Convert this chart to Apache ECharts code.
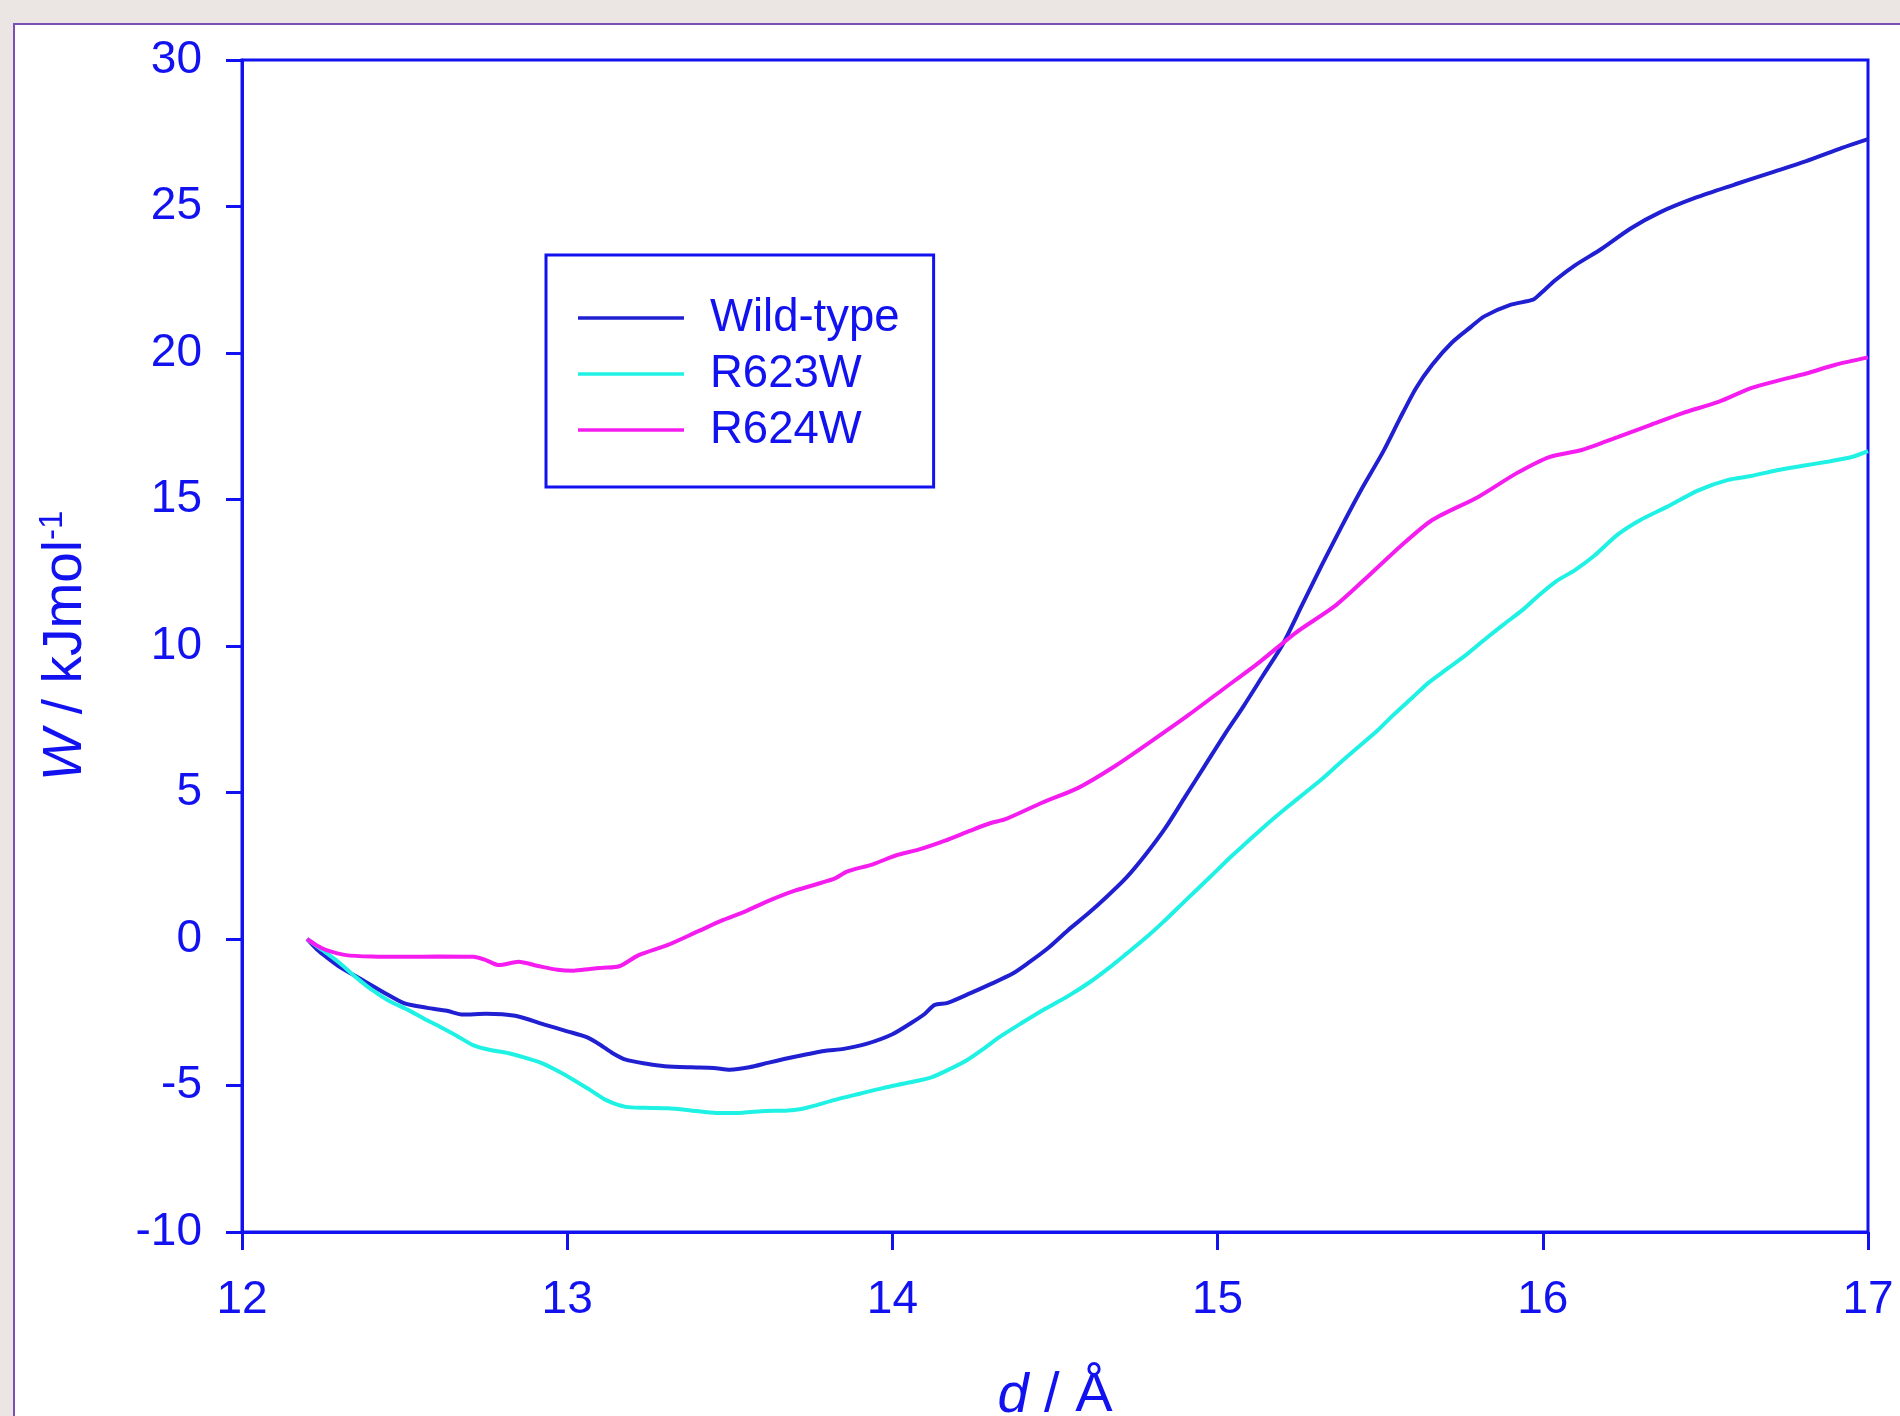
<!DOCTYPE html>
<html><head><meta charset="utf-8">
<script src="https://cdn.jsdelivr.net/npm/echarts@6/dist/echarts.min.js"></script>
<style>html,body{margin:0;padding:0;background:#ebe6e3}#c{width:1900px;height:1416px}</style>
</head><body><div id="c"></div><script>
const seriesNames = ['Wild-type', 'R623W', 'R624W'];
const xTicks = [12, 13, 14, 15, 16, 17];
const yTicks = [-10, -5, 0, 5, 10, 15, 20, 25, 30];

const wildX = [12.20,12.23,12.26,12.30,12.37,12.44,12.50,12.57,12.63,12.68,12.75,12.84,12.93,13.00,13.06,13.10,13.14,13.18,13.24,13.30,13.38,13.45,13.50,13.56,13.62,13.70,13.79,13.85,13.92,14.00,14.06,14.10,14.13,14.17,14.24,14.30,14.37,14.42,14.48,14.54,14.60,14.66,14.72,14.78,14.84,14.90,14.96,15.02,15.08,15.14,15.20,15.26,15.32,15.38,15.44,15.51,15.56,15.61,15.66,15.72,15.78,15.82,15.90,15.97,15.99,16.04,16.10,16.18,16.27,16.36,16.47,16.59,16.70,16.81,16.92,17.00];
const wildY = [0,-0.35,-0.62,-0.95,-1.40,-1.85,-2.20,-2.35,-2.45,-2.58,-2.55,-2.62,-2.92,-3.15,-3.35,-3.60,-3.90,-4.12,-4.25,-4.34,-4.38,-4.40,-4.46,-4.38,-4.22,-4.02,-3.82,-3.75,-3.58,-3.25,-2.85,-2.55,-2.25,-2.18,-1.85,-1.55,-1.18,-0.80,-0.30,0.30,0.85,1.45,2.10,2.90,3.80,4.85,5.90,6.95,7.95,9.00,10.05,11.40,12.75,14.05,15.30,16.65,17.75,18.80,19.60,20.35,20.90,21.25,21.64,21.82,22.00,22.50,23.00,23.55,24.25,24.80,25.30,25.75,26.15,26.55,27.00,27.30];

const r623X = [12.20,12.25,12.30,12.35,12.40,12.45,12.51,12.56,12.61,12.66,12.71,12.76,12.82,12.87,12.92,12.97,13.02,13.07,13.12,13.18,13.24,13.31,13.38,13.46,13.54,13.61,13.67,13.72,13.77,13.82,13.90,13.97,14.05,14.12,14.18,14.23,14.28,14.33,14.40,14.47,14.54,14.61,14.67,14.72,14.78,14.83,14.90,14.98,15.04,15.09,15.15,15.21,15.27,15.32,15.38,15.43,15.49,15.54,15.60,15.65,15.71,15.77,15.83,15.88,15.94,15.99,16.04,16.10,16.16,16.23,16.30,16.38,16.48,16.57,16.64,16.72,16.80,16.88,16.95,17.00];
const r623Y = [0,-0.40,-0.82,-1.30,-1.74,-2.10,-2.42,-2.72,-3.00,-3.30,-3.62,-3.78,-3.90,-4.05,-4.23,-4.50,-4.81,-5.15,-5.50,-5.73,-5.76,-5.78,-5.85,-5.94,-5.93,-5.87,-5.86,-5.80,-5.66,-5.50,-5.28,-5.09,-4.90,-4.72,-4.42,-4.13,-3.75,-3.34,-2.85,-2.38,-1.95,-1.45,-0.95,-0.50,0.05,0.55,1.30,2.15,2.80,3.30,3.90,4.46,5.00,5.45,6.05,6.53,7.10,7.64,8.25,8.76,9.25,9.75,10.30,10.74,11.25,11.75,12.20,12.60,13.10,13.80,14.30,14.74,15.32,15.67,15.80,16.00,16.15,16.30,16.45,16.65];

const r624X = [12.20,12.23,12.26,12.32,12.40,12.51,12.60,12.71,12.75,12.79,12.85,12.91,12.97,13.02,13.07,13.11,13.16,13.22,13.31,13.40,13.48,13.55,13.61,13.70,13.82,13.86,13.94,14.01,14.08,14.16,14.24,14.30,14.35,14.46,14.57,14.68,14.80,14.91,15.02,15.13,15.24,15.36,15.45,15.56,15.66,15.80,15.92,16.02,16.12,16.23,16.33,16.43,16.54,16.64,16.72,16.81,16.90,17.00];
const r624Y = [0,-0.22,-0.38,-0.55,-0.60,-0.61,-0.60,-0.61,-0.72,-0.89,-0.78,-0.92,-1.05,-1.08,-1.02,-0.98,-0.93,-0.55,-0.20,0.25,0.65,0.95,1.26,1.65,2.05,2.30,2.55,2.85,3.05,3.35,3.70,3.95,4.10,4.65,5.15,5.87,6.78,7.64,8.55,9.46,10.45,11.36,12.25,13.38,14.30,15.08,15.90,16.45,16.69,17.13,17.54,17.95,18.33,18.80,19.05,19.30,19.60,19.85];

const pair = (xs, ys) => xs.map((x, i) => [x, ys[i]]);
const AX = '#1212f0';
const FONT = '"Liberation Sans", Arial, sans-serif';
const colors = ['#2020d2', '#1ff2e4', '#f51cf0'];

const chart = echarts.init(document.getElementById('c'), null, {renderer: 'canvas'});
const lineSeries = (name, data, color) => ({
  name, type: 'line', data, symbol: 'none', smooth: 0.25,
  lineStyle: {color, width: 4}, itemStyle: {color}, z: 3
});
chart.setOption({
  animation: false,
  backgroundColor: '#ebe6e3',
  textStyle: {fontFamily: FONT},
  graphic: [{
    type: 'rect', z: -10, silent: true,
    shape: {x: 14, y: 24, width: 1900, height: 1420},
    style: {fill: '#ffffff', stroke: '#7a50b6', lineWidth: 2}
  }],
  grid: {left: 242, top: 60, right: 32, bottom: 184, outerBoundsMode: 'none', containLabel: false,
    show: true, borderColor: AX, borderWidth: 3, backgroundColor: 'rgba(0,0,0,0)'},
  legend: {
    data: seriesNames, orient: 'vertical', left: 546, top: 255,
    padding: [40, 34, 34, 32], itemGap: 10, itemWidth: 106, itemHeight: 3.5, icon: 'rect',
    borderColor: AX, borderWidth: 3, backgroundColor: '#fff',
    textStyle: {fontSize: 45.5, color: AX, fontFamily: FONT, padding: [0, 0, 0, 21]}
  },
  xAxis: {
    type: 'value', min: xTicks[0], max: xTicks[xTicks.length - 1], interval: 1,
    name: '{i|d} / Å', nameLocation: 'middle', nameGap: 136,
    nameTextStyle: {fontSize: 56, color: AX, fontFamily: FONT, rich: {i: {fontSize: 56, fontStyle: 'italic', color: AX, fontFamily: FONT}}},
    axisLine: {show: true, onZero: false, lineStyle: {color: AX, width: 3}},
    axisTick: {show: true, inside: false, length: 18, lineStyle: {color: AX, width: 3}},
    axisLabel: {fontSize: 46, color: AX, margin: 45, fontFamily: FONT},
    splitLine: {show: false}
  },
  yAxis: {
    type: 'value', min: yTicks[0], max: yTicks[yTicks.length - 1], interval: 5,
    name: '{i|W} / kJmol{s|-1}', nameLocation: 'middle', nameGap: 146, nameRotate: 90,
    nameTextStyle: {fontSize: 55, color: AX, fontFamily: FONT, lineHeight: 60,
      rich: {i: {fontSize: 55, fontStyle: 'italic', color: AX, fontFamily: FONT, lineHeight: 60},
             s: {fontSize: 33, color: AX, fontFamily: FONT, verticalAlign: 'top', lineHeight: 33}}},
    axisLine: {show: true, onZero: false, lineStyle: {color: AX, width: 3}},
    axisTick: {show: true, inside: false, length: 16, lineStyle: {color: AX, width: 3}},
    axisLabel: {fontSize: 46, color: AX, margin: 40, fontFamily: FONT},
    splitLine: {show: false}
  },
  series: [
    lineSeries(seriesNames[0], pair(wildX, wildY), colors[0]),
    lineSeries(seriesNames[1], pair(r623X, r623Y), colors[1]),
    lineSeries(seriesNames[2], pair(r624X, r624Y), colors[2])
  ]
});
</script></body></html>
